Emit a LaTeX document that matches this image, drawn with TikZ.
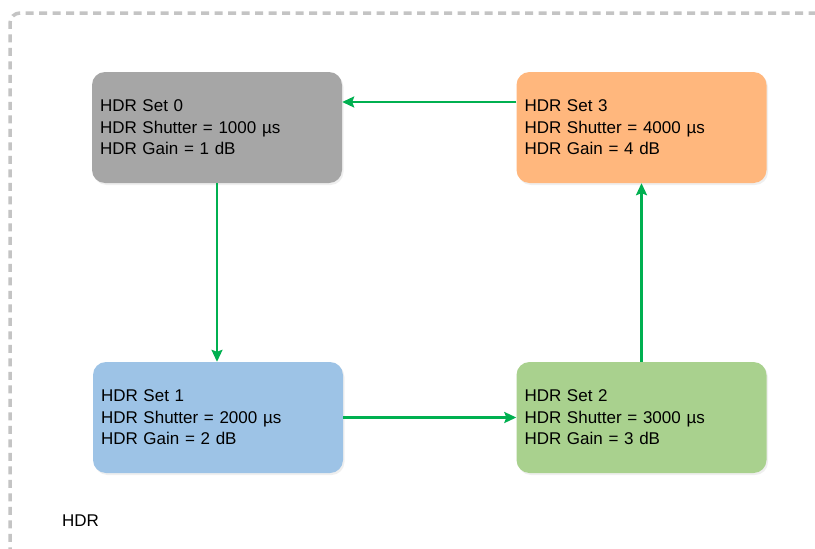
\documentclass[tikz,border=0pt]{standalone}
\usepackage{fontspec}
\setmainfont{Liberation Sans}
\usetikzlibrary{arrows.meta,shadows}
\definecolor{boxgray}{HTML}{A6A6A6}
\definecolor{boxorange}{HTML}{FFB77D}
\definecolor{boxblue}{HTML}{9DC3E6}
\definecolor{boxgreen}{HTML}{A9D18E}
\definecolor{arrowgreen}{HTML}{00B050}
\definecolor{framegray}{HTML}{C4C4C4}
\tikzset{
  hdrbox/.style={rectangle, rounded corners=13pt, minimum width=250pt, minimum height=111pt,
    text width=234pt, inner xsep=8pt, align=left, font=\fontsize{17}{21.5}\selectfont,
    drop shadow={opacity=0.12, shadow xshift=1.5pt, shadow yshift=-2pt}},
  flow/.style={draw=arrowgreen, line width=2.2pt, -{Stealth[length=12pt,width=11pt,inset=2pt]}},
  frame/.style={draw=framegray, line width=3.5pt, dash pattern=on 8pt off 5.5pt}
}
\begin{document}
\begin{tikzpicture}[x=1pt,y=-1pt]
\useasboundingbox (0,0) rectangle (815,549);
\fill[white] (0,0) rectangle (815,549);
\draw[frame, rounded corners=10pt] (830,13) -- (10,13) -- (10,560);
\node[hdrbox, fill=boxgray] (b0) at (217,127.5) {HDR Set 0\\HDR Shutter = 1000 µs\\HDR Gain = 1 dB};
\node[hdrbox, fill=boxorange] (b3) at (641.5,127.5) {HDR Set 3\\HDR Shutter = 4000 µs\\HDR Gain = 4 dB};
\node[hdrbox, fill=boxblue] (b1) at (218,417.5) {HDR Set 1\\HDR Shutter = 2000 µs\\HDR Gain = 2 dB};
\node[hdrbox, fill=boxgreen] (b2) at (641.5,417.5) {HDR Set 2\\HDR Shutter = 3000 µs\\HDR Gain = 3 dB};
\node[anchor=base west, inner sep=0pt, font=\fontsize{17}{20}\selectfont] (lbl) at (62,526) {HDR};
\draw[flow] (b0.south) -- (b0.south |- b1.north);
\draw[flow] (b1.east) -- (b2.west |- b1.east);
\draw[flow] (b2.north) -- (b2.north |- b3.south);
\draw[flow] ([yshift=25.5pt]b3.west) -- ([yshift=25.5pt]b0.east);
\end{tikzpicture}
\end{document}
